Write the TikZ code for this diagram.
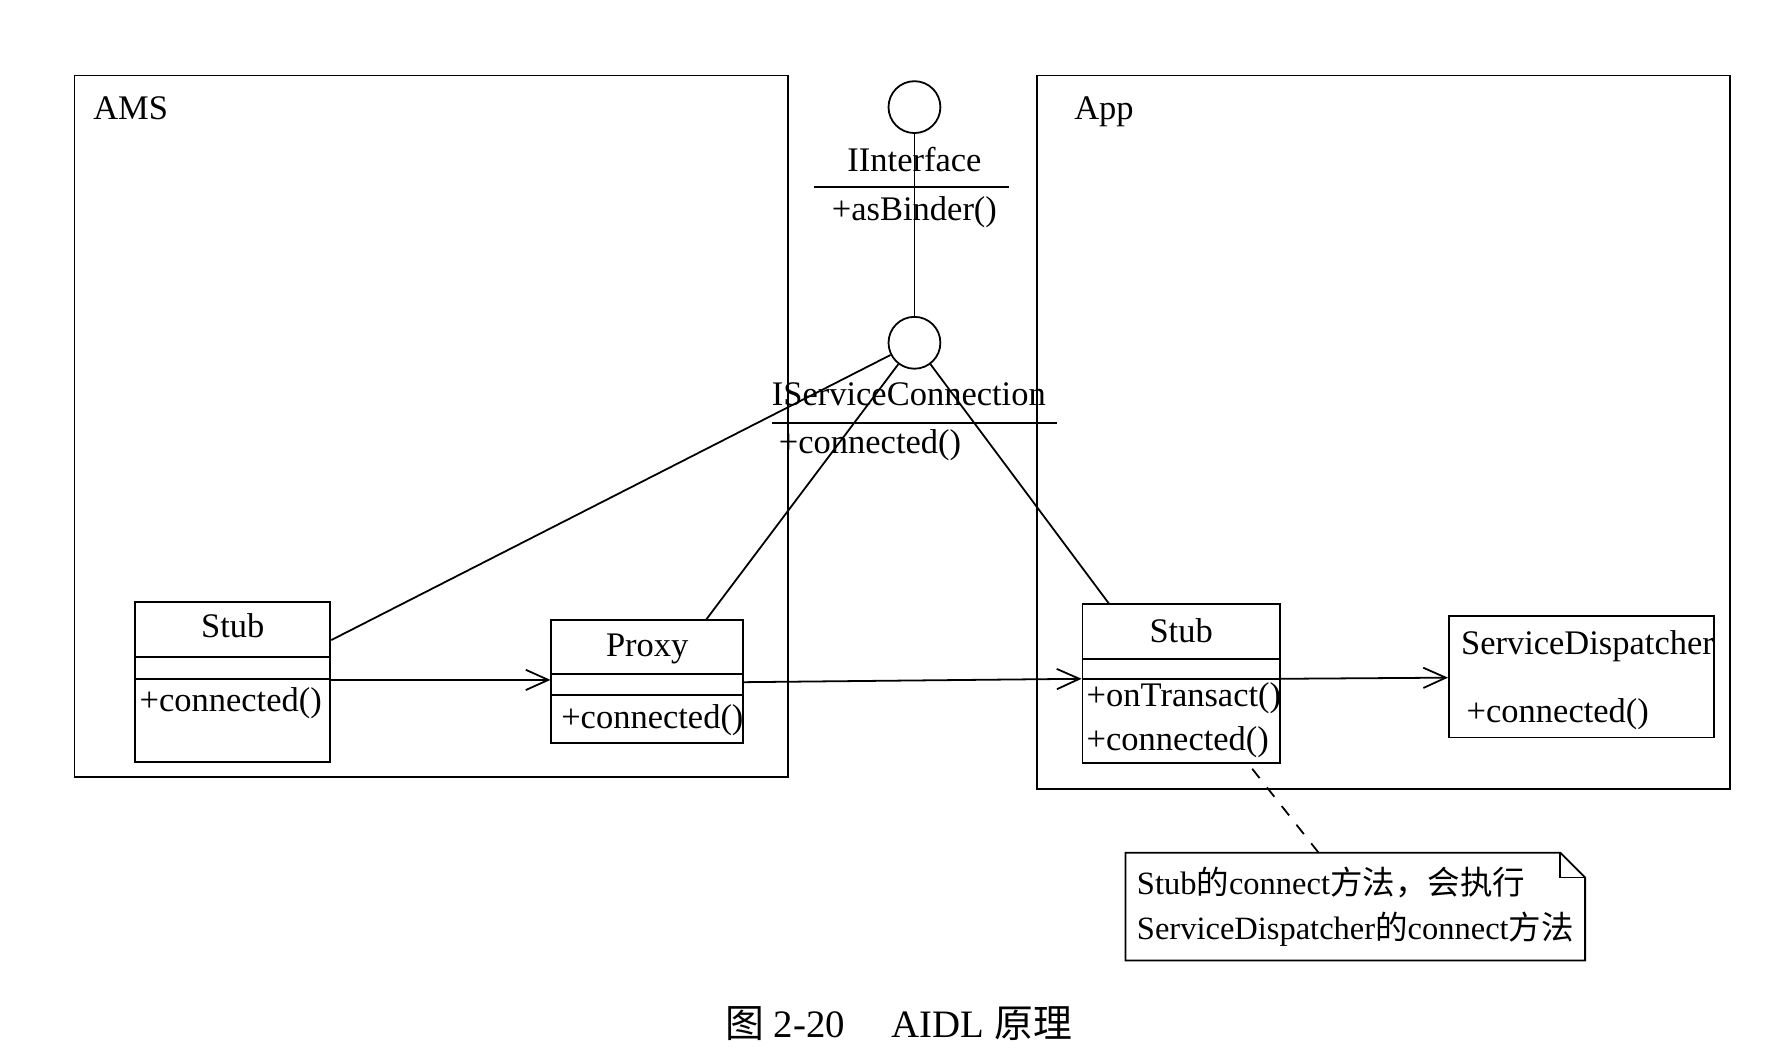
\documentclass[tikz,border=0pt]{standalone}
\usepackage{fontspec}
\setmainfont{Liberation Serif}
\newfontfamily\cjk{Noto Sans CJK SC}
\usetikzlibrary{calc,arrows.meta}

\begin{document}
\begin{tikzpicture}[>={Straight Barb[length=2mm,width=1.8mm]},line width=0.45pt,
                    every node/.style={font=\fontsize{8.7}{10}\selectfont}]
  \tikzstyle{frame}=[rectangle,draw=black,inner sep=0pt]
  \tikzstyle{classbox}=[rectangle,draw=black,fill=white,inner sep=0pt]
  \tikzstyle{iface}=[circle,draw=black,fill=white,minimum size=4.6mm,inner sep=0pt]
  \tikzstyle{member}=[text height=1.5ex,text depth=.4ex,inner sep=0pt]
  \useasboundingbox (0,0) rectangle (15.68,-9.38);

  % processes
  \node[frame,minimum width=6.33cm,minimum height=6.22cm] (ams) at (3.825,-3.78) {};
  \node[frame,minimum width=6.14cm,minimum height=6.33cm] (app) at (12.27,-3.835) {};
  \node[member,anchor=west] (amsname) at (0.82,-0.97) {AMS};
  \node[member,anchor=west] (appname) at (9.52,-0.97) {App};

  % interfaces
  \node[member] (ibindername) at (8.11,-1.43) {IInterface};
  \node[member] (ibinderop) at (8.11,-1.87) {+asBinder()};
  \draw (7.22,-1.66) -- (8.95,-1.66);
  \node[member] (iconnname) at (8.06,-3.51) {IServiceConnection};
  \node[member,anchor=west] (iconnop) at (6.90,-3.93) {+connected()};
  \draw (6.85,-3.75) -- (9.37,-3.75);
  \node[iface] (ibinder) at (8.11,-0.95) {};
  \node[iface] (iconn) at (8.11,-3.04) {};

  % classes
  \node[classbox,minimum width=1.73cm,minimum height=1.42cm] (stubA) at (2.065,-6.05) {};
  \node[member] at ($(stubA.north)+(0,-0.23)$) {Stub};
  \draw (stubA.west |- 0,-5.83) -- (stubA.east |- 0,-5.83);
  \draw (stubA.west |- 0,-6.025) -- (stubA.east |- 0,-6.025);
  \node[member,anchor=west] at (1.23,-6.22) {+connected()};

  \node[classbox,minimum width=1.70cm,minimum height=1.09cm] (proxy) at (5.74,-6.045) {};
  \node[member] at ($(proxy.north)+(0,-0.24)$) {Proxy};
  \draw (proxy.west |- 0,-5.98) -- (proxy.east |- 0,-5.98);
  \draw (proxy.west |- 0,-6.165) -- (proxy.east |- 0,-6.165);
  \node[member,anchor=west] at (4.97,-6.37) {+connected()};

  \node[classbox,minimum width=1.75cm,minimum height=1.41cm] (stubB) at (10.475,-6.065) {};
  \node[member] at ($(stubB.north)+(0,-0.26)$) {Stub};
  \draw (stubB.west |- 0,-5.845) -- (stubB.east |- 0,-5.845);
  \draw (stubB.west |- 0,-6.02) -- (stubB.east |- 0,-6.02);
  \node[member,anchor=west] at (9.63,-6.18) {+onTransact()};
  \node[member,anchor=west] at (9.63,-6.57) {+connected()};

  \node[classbox,minimum width=2.35cm,minimum height=1.08cm] (disp) at (14.025,-6.00) {};
  \node[member,anchor=west] at (12.95,-5.72) {ServiceDispatcher};
  \node[member,anchor=west] at (13.00,-6.32) {+connected()};

  % realisation lines
  \draw (ibinder) -- (iconn);
  \draw (iconn) -- ($(stubA.north east)!0.24!(stubA.south east)$);
  \draw (iconn) -- ($(proxy.north west)!0.806!(proxy.north east)$);
  \draw (iconn) -- ($(stubB.north west)!0.137!(stubB.north east)$);

  % calls
  \draw[->] (stubA.east |- 0,-6.03) -- (proxy.west |- 0,-6.03);
  \draw[->] (proxy.east |- 0,-6.05) -- (stubB.west |- 0,-6.02);
  \draw[->] (stubB.east |- 0,-6.02) -- (disp.west |- 0,-6.01);

  % note
  \node[inner xsep=0.08cm,minimum width=4.06cm,minimum height=0.88cm,align=left,
        font=\fontsize{8.2}{11.4}\selectfont] (note) at (12.02,-8.04)
    {Stub{\cjk 的}connect{\cjk 方法，会执行}\\ServiceDispatcher{\cjk 的}connect{\cjk 方法}};
  \draw (note.north west) -- ($(note.north east)+(-0.22,0)$) -- ($(note.north east)+(0,-0.22)$)
    -- (note.south east) -- (note.south west) -- cycle;
  \draw ($(note.north east)+(-0.22,0)$) |- ($(note.north east)+(0,-0.22)$);
  \draw[dashed] ($(stubB.south west)!0.857!(stubB.south east)+(0,-0.04)$)
    -- ($(note.north west)!0.42!(note.north east)$);

  % caption
  \node[font=\fontsize{9.8}{12}\selectfont] (caption) at (7.97,-9.08)
    {{\cjk 图} 2-20\hspace{1.2em}AIDL {\cjk 原理}};
\end{tikzpicture}
\end{document}
